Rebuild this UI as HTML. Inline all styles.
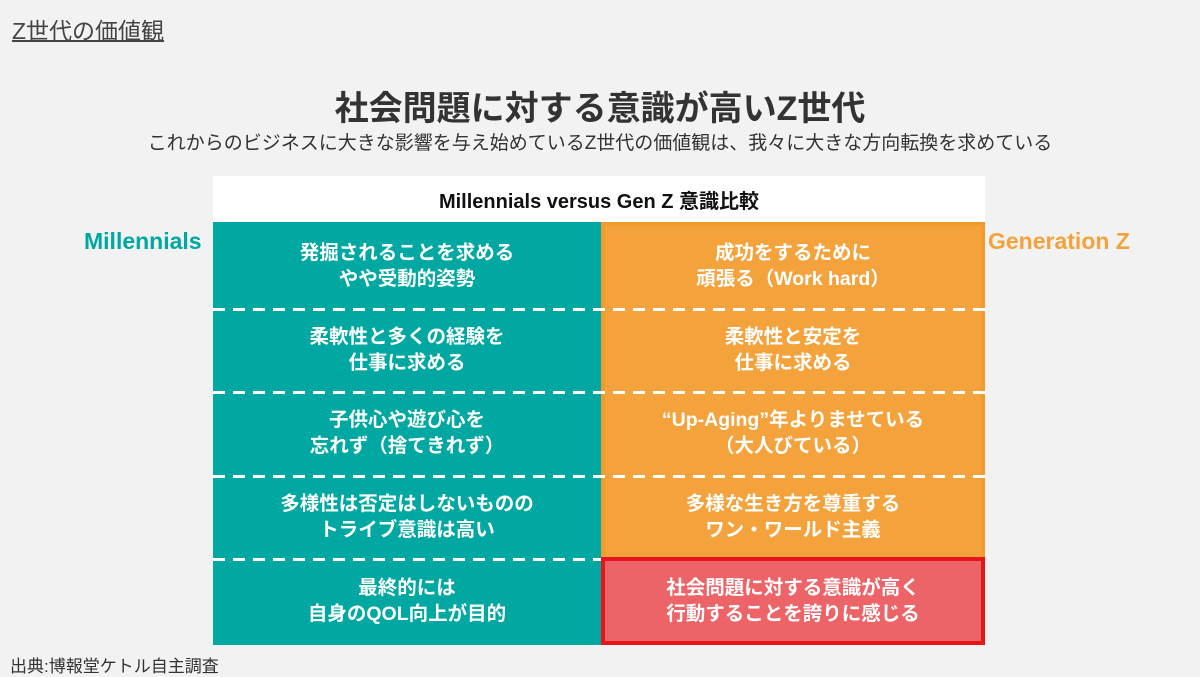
<!DOCTYPE html>
<html><head><meta charset="utf-8"><style>
*{margin:0;padding:0;box-sizing:border-box}
body{width:1200px;height:676px;background:#f2f2f2;position:relative;overflow:hidden;font-family:"Liberation Sans","Noto Sans CJK JP",sans-serif}
.a{position:absolute}
.cell{position:absolute;display:flex;align-items:center;justify-content:center;text-align:center;color:#fff;font-weight:bold;font-size:19.5px;line-height:26px}
.dash{position:absolute;left:213px;width:772px;height:3px;background:repeating-linear-gradient(90deg,#fff 0 12px,transparent 12px 20px)}
</style></head><body>
<div class="a" style="left:12px;top:12px;font-size:23px;color:#444;text-decoration:underline;text-decoration-thickness:2px">Z世代の価値観</div>
<div class="a" style="left:0;width:1200px;top:81px;text-align:center;font-size:34px;font-weight:bold;color:#333">社会問題に対する意識が高いZ世代</div>
<div class="a" style="left:0;width:1200px;top:128px;text-align:center;font-size:19px;color:#333">これからのビジネスに大きな影響を与え始めているZ世代の価値観は、我々に大きな方向転換を求めている</div>
<div class="a" style="left:213px;top:176px;width:772px;height:46px;background:#fff;display:flex;align-items:center;justify-content:center;font-size:20px;font-weight:bold;color:#111">Millennials versus Gen Z 意識比較</div>
<div class="a" style="left:213px;top:222px;width:388px;height:423px;background:#00a8a1"></div>
<div class="a" style="left:601px;top:222px;width:384px;height:423px;background:#f4a23c;border:4px solid #f19a2e;border-bottom:none"></div>
<div class="a" style="left:601px;top:557px;width:384px;height:88px;background:#ec6468;border:4px solid #e8141c"></div>
<div class="dash" style="top:308px"></div>
<div class="dash" style="top:391px"></div>
<div class="dash" style="top:475px"></div>
<div class="dash" style="top:558px;width:388px"></div>
<div class="a" style="left:84px;top:228px;font-size:23px;font-weight:bold;color:#00a8a1">Millennials</div>
<div class="a" style="left:988px;top:228px;font-size:23px;font-weight:bold;color:#f4a23c">Generation Z</div>
<div class="cell" style="left:213px;width:388px;top:226px;height:80px">発掘されることを求める<br>やや受動的姿勢</div>
<div class="cell" style="left:213px;width:388px;top:310px;height:80px">柔軟性と多くの経験を<br>仕事に求める</div>
<div class="cell" style="left:213px;width:388px;top:393px;height:80px">子供心や遊び心を<br>忘れず（捨てきれず）</div>
<div class="cell" style="left:213px;width:388px;top:477px;height:80px">多様性は否定はしないものの<br>トライブ意識は高い</div>
<div class="cell" style="left:213px;width:388px;top:561px;height:80px">最終的には<br>自身のQOL向上が目的</div>
<div class="cell" style="left:601px;width:384px;top:226px;height:80px">成功をするために<br>頑張る（Work hard）</div>
<div class="cell" style="left:601px;width:384px;top:310px;height:80px">柔軟性と安定を<br>仕事に求める</div>
<div class="cell" style="left:601px;width:384px;top:393px;height:80px">“Up-Aging”年よりませている<br>（大人びている）</div>
<div class="cell" style="left:601px;width:384px;top:477px;height:80px">多様な生き方を尊重する<br>ワン・ワールド主義</div>
<div class="cell" style="left:601px;width:384px;top:561px;height:80px">社会問題に対する意識が高く<br>行動することを誇りに感じる</div>
<div class="a" style="left:10px;top:652px;font-size:17px;color:#333">出典:博報堂ケトル自主調査</div>
</body></html>
